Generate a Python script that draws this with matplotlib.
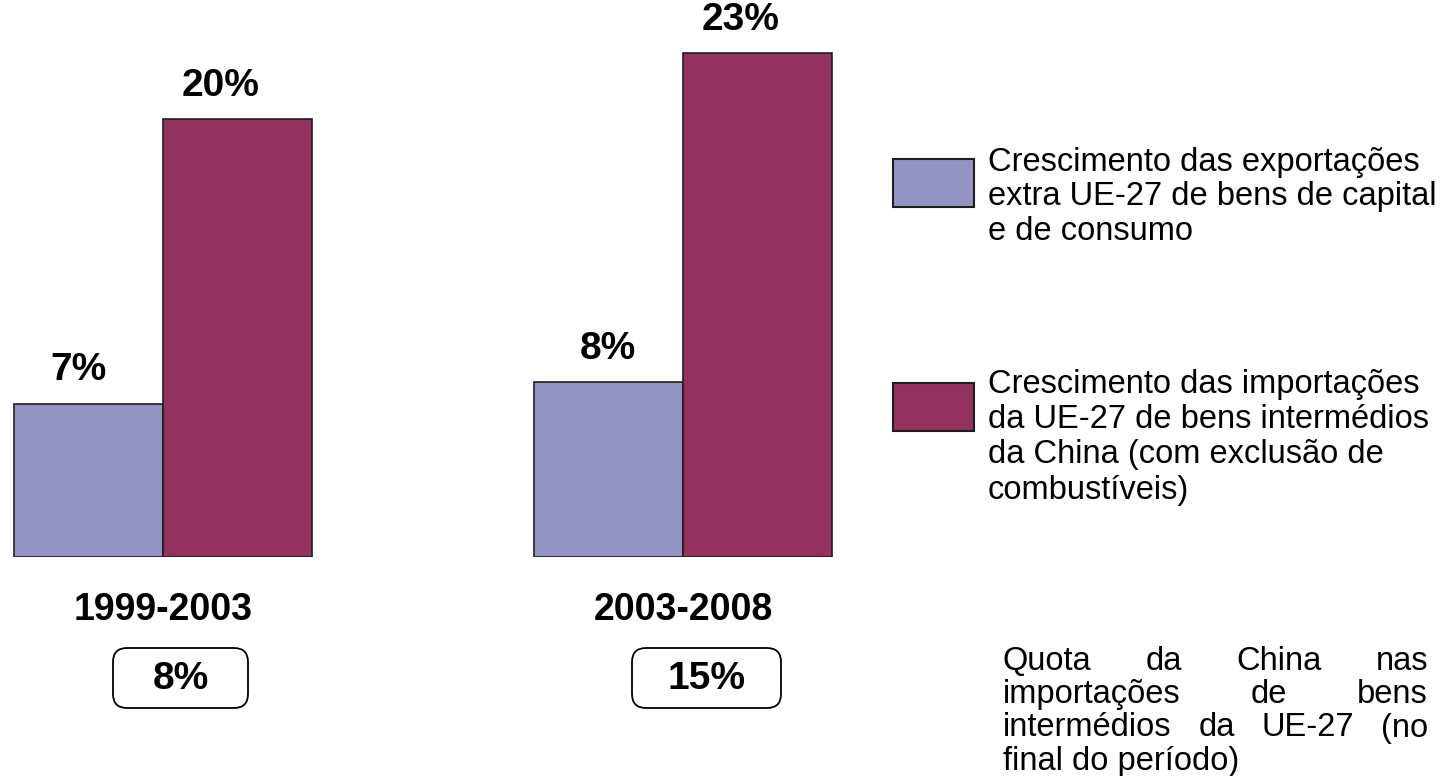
import numpy as np
import matplotlib
matplotlib.use('Agg')
import matplotlib.pyplot as plt
from matplotlib.patches import Rectangle, FancyBboxPatch

plt.rcParams['font.family'] = ['Liberation Sans', 'DejaVu Sans']

# data
periods = ['1999-2003', '2003-2008']
exports_growth = [7, 8]      # % extra-UE27 exports of capital & consumer goods
imports_growth = [20, 23]    # % UE27 imports of intermediate goods from China
china_share = [8, 15]        # % China share, end of period

legend_export = ['Crescimento das exportações',
                 'extra UE-27 de bens de capital',
                 'e de consumo']
legend_import = ['Crescimento das importações',
                 'da UE-27 de bens intermédios',
                 'da China (com exclusão de',
                 'combustíveis)']
note_lines = ['Quota da China nas',
              'importações de bens',
              'intermédios da UE-27 (no',
              'final do período)']

BLUE = '#9393c4'
RED = '#93315f'
EDGE = '#1e1e1e'

W, H = 1443, 776
fig = plt.figure(figsize=(W / 100, H / 100), dpi=100)

# bar axes: groups 520 px apart, bars 149 px wide, baseline at y = 557 px
base = 557
ax = fig.add_axes([0, (H - base) / H, 860 / W, base / H])
x = np.arange(len(periods))
w = 149 / 520
ax.bar(x - w / 2, exports_growth, w, color=BLUE, edgecolor=EDGE, lw=1.2)
ax.bar(x + w / 2, imports_growth, w, color=RED, edgecolor=EDGE, lw=1.2)
ax.set_xlim(-163 / 520, 697 / 520)
ax.set_ylim(0, base / 21.9)
ax.axis('off')

px = 72 / 100  # points per pixel
# value labels sit a little left of the bar centre in the original
for xs, vals, dx in [(x - w / 2, exports_growth, [-10, -1]),
                     (x + w / 2, imports_growth, [-17, -17])]:
    for xi, v, d in zip(xs, vals, dx):
        ax.annotate(f'{v}%', (xi, v), xytext=(d * px, 11), textcoords='offset points',
                    ha='center', va='bottom', fontsize=28, fontweight='bold')

for xi, p in zip(x, periods):
    ax.annotate(p, (xi, 0), xytext=(0, -53 * px), textcoords='offset points',
                ha='center', va='center', fontsize=27, fontweight='bold',
                annotation_clip=False)

# overlay in pixel coordinates for legend, boxes and note
ov = fig.add_axes([0, 0, 1, 1])
ov.set_xlim(0, W)
ov.set_ylim(H, 0)
ov.axis('off')

# boxes with China share
for (bx, bw), s in zip([(113, 135), (632, 149)], china_share):
    ov.add_patch(FancyBboxPatch((bx, 648), bw, 60,
                                boxstyle='round,pad=0,rounding_size=14',
                                fc='white', ec='black', lw=1.3))
    ov.text(bx + bw / 2, 679, f'{s}%', ha='center', va='center',
            fontsize=28, fontweight='bold')

# legend
fs = 23.5
for (by, col, lines, ty) in [(159, BLUE, legend_export, 162),
                             (383, RED, legend_import, 385)]:
    ov.add_patch(Rectangle((893, by), 81, 48, fc=col, ec=EDGE, lw=1.5))
    for i, line in enumerate(lines):
        ov.text(988, ty + 35 * i, line, ha='left', va='center', fontsize=fs)

# justified note
renderer = fig.canvas.get_renderer()
x0, x1 = 1003, 1428
for i, line in enumerate(note_lines):
    y = 661 + 33.5 * i
    words = line.split()
    if i == len(note_lines) - 1:
        ov.text(x0, y, line, ha='left', va='center', fontsize=fs)
        continue
    txts = [ov.text(0, y, wd, ha='left', va='center', fontsize=fs) for wd in words]
    widths = [t.get_window_extent(renderer).width for t in txts]
    gap = (x1 - x0 - sum(widths)) / (len(words) - 1)
    cx = x0
    for t, wd in zip(txts, widths):
        t.set_x(cx)
        cx += wd + gap

fig.savefig('out.png', dpi=100)
